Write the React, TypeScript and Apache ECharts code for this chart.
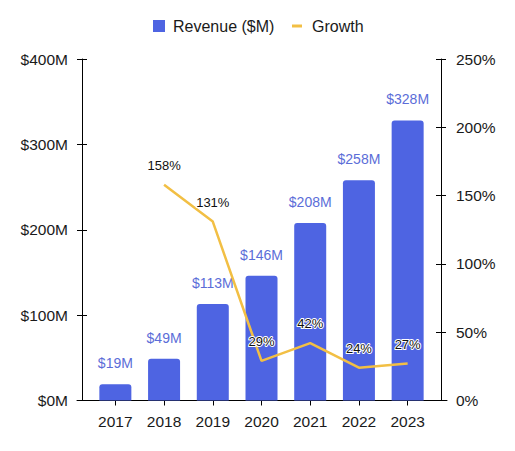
import React, { useEffect, useRef } from "react";
import * as echarts from "echarts";

const years = ["2017", "2018", "2019", "2020", "2021", "2022", "2023"];
const revenue = [19, 49, 113, 146, 208, 258, 328];
const growth: (number | null)[] = [null, 158, 131, 29, 42, 24, 27];
const revenueTicks = { min: 0, max: 400, interval: 100 };
const growthTicks = { min: 0, max: 250, interval: 50 };

const BAR = "#4E64E2";
const BAR_LABEL = "#5B6DD8";
const LINE = "#F2BF44";
const FONT = "'Liberation Sans', Arial, Helvetica, sans-serif";
const INK = "#1a1a1a";

export default function App() {
  const ref = useRef<HTMLDivElement>(null);
  useEffect(() => {
    if (!ref.current) return;
    const chart = echarts.init(ref.current, undefined, { renderer: "svg" });
    const tickOut = { show: true, length: 5, lineStyle: { color: "#000", width: 1 } };
    const tickIn = { show: true, inside: true, length: 5, lineStyle: { color: "#000", width: 1 } };
    chart.setOption({
      animation: false,
      backgroundColor: "#fff",
      textStyle: { fontFamily: FONT },
      legend: [
        {
          data: [{ name: "Revenue ($M)", icon: "rect" }],
          left: 148,
          top: 13,
          itemWidth: 12,
          itemHeight: 12,
          textStyle: { fontSize: 16, color: INK, fontFamily: FONT, padding: [0, 0, 0, 3] },
        },
        {
          data: [{ name: "Growth", icon: "rect" }],
          left: 287,
          top: 13,
          itemWidth: 10,
          itemHeight: 3,
          itemStyle: { color: LINE },
          textStyle: { fontSize: 16, color: INK, fontFamily: FONT, padding: [0, 0, 0, 5] },
        },
      ],
      grid: [
        { left: 91, right: 83, top: 59, bottom: 50.5 },
        { left: 77, right: 68, top: 59, bottom: 50.5 },
      ],
      xAxis: [
        {
          type: "category",
          gridIndex: 0,
          data: years,
          position: "bottom",
          axisLine: { show: false },
          axisTick: { ...tickOut, alignWithLabel: true },
          axisLabel: { fontSize: 15.5, color: INK, margin: 13, fontFamily: FONT },
        },
        {
          type: "value",
          gridIndex: 1,
          min: 0,
          max: 1,
          axisLine: { show: true, lineStyle: { color: "#000", width: 1 } },
          axisTick: { show: false },
          axisLabel: { show: false },
          splitLine: { show: false },
        },
        {
          type: "category",
          gridIndex: 0,
          data: years,
          position: "bottom",
          axisLine: { show: false },
          axisTick: { ...tickIn, alignWithLabel: true },
          axisLabel: { show: false },
        },
      ],
      yAxis: [
        {
          type: "value",
          gridIndex: 0,
          position: "left",
          offset: 9,
          ...revenueTicks,
          axisLine: { show: true, lineStyle: { color: "#000", width: 1 } },
          axisTick: tickOut,
          splitLine: { show: false },
          axisLabel: {
            fontSize: 15.5,
            color: INK,
            margin: 14,
            fontFamily: FONT,
            formatter: (v: number) => `$${v}M`,
          },
        },
        {
          type: "value",
          gridIndex: 0,
          position: "right",
          offset: 9,
          ...growthTicks,
          axisLine: { show: true, lineStyle: { color: "#000", width: 1 } },
          axisTick: tickOut,
          splitLine: { show: false },
          axisLabel: {
            fontSize: 15.5,
            color: INK,
            margin: 15,
            fontFamily: FONT,
            formatter: (v: number) => `${v}%`,
          },
        },
        {
          type: "value",
          gridIndex: 0,
          position: "left",
          offset: 9,
          ...revenueTicks,
          axisLine: { show: false },
          axisTick: tickIn,
          splitLine: { show: false },
          axisLabel: { show: false },
        },
        {
          type: "value",
          gridIndex: 0,
          position: "right",
          offset: 9,
          ...growthTicks,
          axisLine: { show: false },
          axisTick: tickIn,
          splitLine: { show: false },
          axisLabel: { show: false },
        },
        { type: "value", gridIndex: 1, show: false, min: 0, max: 1 },
      ],
      series: [
        {
          name: "Revenue ($M)",
          type: "bar",
          xAxisIndex: 0,
          yAxisIndex: 0,
          data: revenue,
          barWidth: 32,
          itemStyle: { color: BAR, borderRadius: [3, 3, 0, 0] },
          label: {
            show: true,
            position: "top",
            distance: 14,
            fontSize: 14,
            color: BAR_LABEL,
            fontFamily: FONT,
            formatter: (p: any) => `$${p.value}M`,
          },
        },
        {
          name: "Growth",
          type: "line",
          xAxisIndex: 0,
          yAxisIndex: 1,
          data: growth.map((g) => (g === null ? "-" : g)),
          symbol: "circle",
          symbolSize: 0,
          lineStyle: { color: LINE, width: 2.5 },
          itemStyle: { color: LINE },
          z: 5,
          label: {
            show: true,
            position: "top",
            distance: 13,
            fontSize: 13,
            color: "#111",
            fontFamily: FONT,
            textBorderColor: "#fff",
            textBorderWidth: 2,
            formatter: (p: any) => `${p.value}%`,
          },
        },
      ],
    });
    return () => chart.dispose();
  }, []);
  return (
    <div
      ref={ref}
      style={{ position: "fixed", left: 0, top: 0, width: 515, height: 451, background: "#fff" }}
    />
  );
}
